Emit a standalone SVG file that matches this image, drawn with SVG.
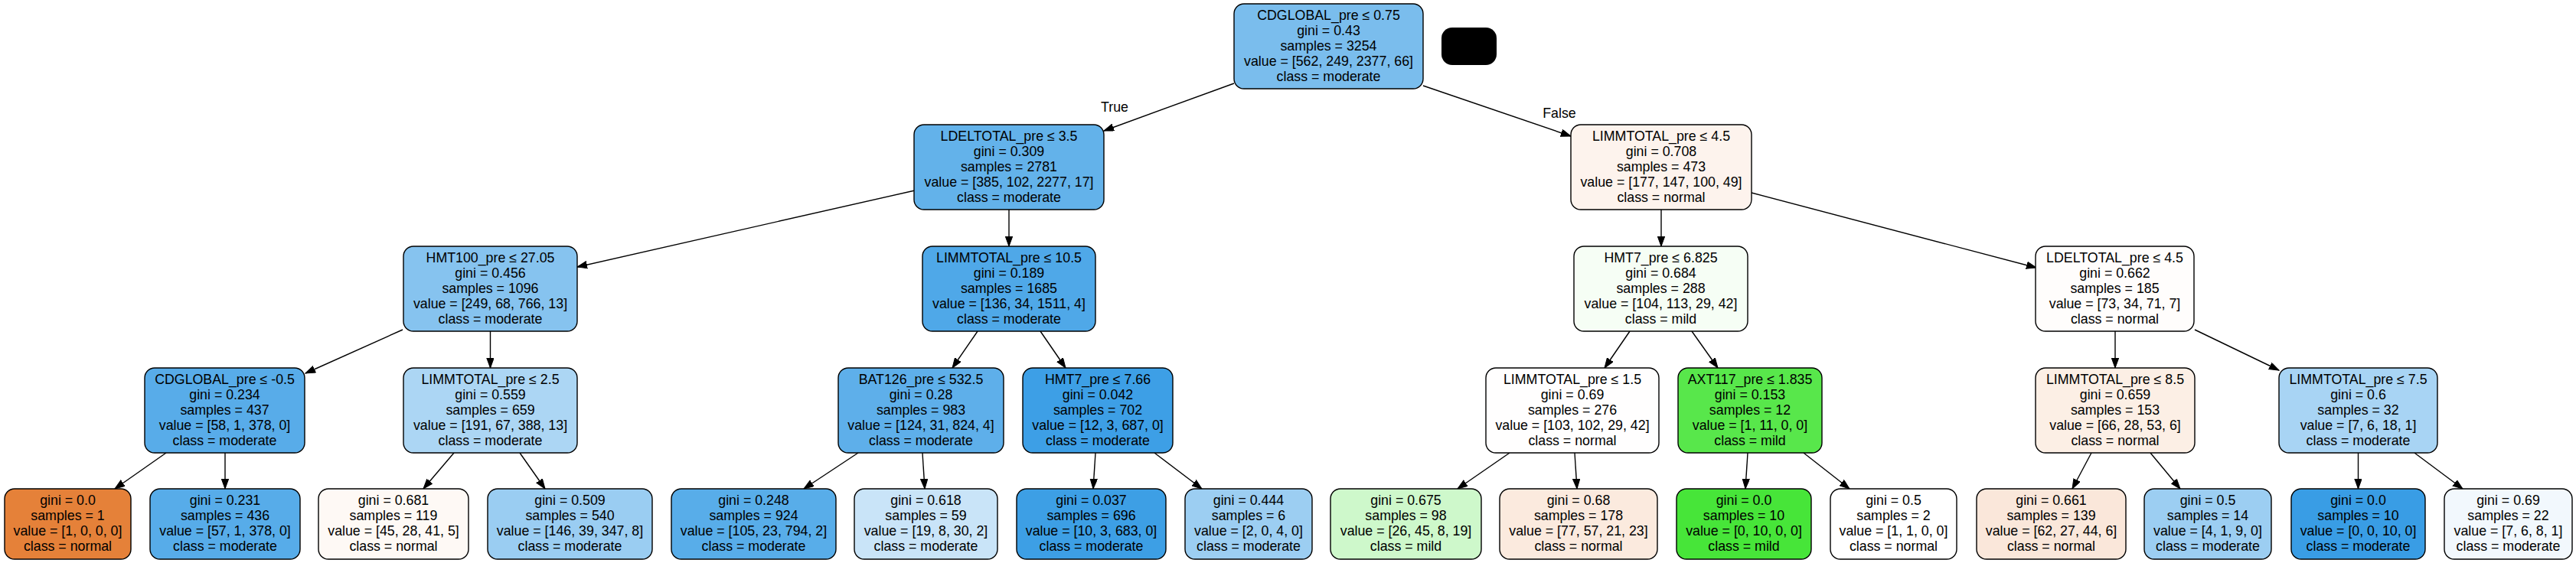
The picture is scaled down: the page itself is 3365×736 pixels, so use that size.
<svg xmlns="http://www.w3.org/2000/svg" width="3365" height="736" viewBox="0 0 3365 736">
<style>
.box{stroke:#000;stroke-width:1.4}
text{font-family:"Liberation Sans",Arial,Helvetica,sans-serif;font-size:17.8px;fill:#000;text-anchor:middle}
.e line{stroke:#000;stroke-width:1.4;fill:none;marker-end:url(#ah)}
</style>
<defs>
<marker id="ah" markerUnits="userSpaceOnUse" markerWidth="14" markerHeight="10" refX="13" refY="4.7" orient="auto">
<path d="M0,0 L13,4.7 L0,9.4 z" fill="#000" stroke="#000" stroke-width="1"/>
</marker>
</defs>
<rect x="0" y="0" width="3365" height="736" fill="#fff"/>
<g id="edges" class="e">
<line x1="1612" y1="109" x2="1442" y2="171"/>
<line x1="1859" y1="112" x2="2052" y2="178"/>
<line x1="1195" y1="249" x2="754" y2="349"/>
<line x1="1318" y1="274" x2="1318" y2="322"/>
<line x1="526" y1="431" x2="399" y2="488"/>
<line x1="640.5" y1="433" x2="640.5" y2="481"/>
<line x1="217" y1="592" x2="150" y2="639"/>
<line x1="294" y1="592" x2="294" y2="639"/>
<line x1="593" y1="592" x2="553" y2="639"/>
<line x1="679" y1="592" x2="712" y2="639"/>
<line x1="1277" y1="433" x2="1244" y2="481"/>
<line x1="1359" y1="433" x2="1392" y2="481"/>
<line x1="1121" y1="592" x2="1050" y2="639"/>
<line x1="1205" y1="592" x2="1208" y2="639"/>
<line x1="1431" y1="592" x2="1428" y2="639"/>
<line x1="1508" y1="592" x2="1570" y2="639"/>
<line x1="2170" y1="274" x2="2170" y2="322"/>
<line x1="2288" y1="252" x2="2660" y2="350"/>
<line x1="2129" y1="433" x2="2096" y2="481"/>
<line x1="2210" y1="433" x2="2244" y2="481"/>
<line x1="1972" y1="592" x2="1904" y2="639"/>
<line x1="2057" y1="592" x2="2060" y2="639"/>
<line x1="2283" y1="592" x2="2280" y2="639"/>
<line x1="2356" y1="592" x2="2416" y2="639"/>
<line x1="2763" y1="433" x2="2763" y2="481"/>
<line x1="2867" y1="431" x2="2977" y2="484"/>
<line x1="2732" y1="592" x2="2707" y2="639"/>
<line x1="2809" y1="592" x2="2848" y2="639"/>
<line x1="3080.5" y1="592" x2="3080.5" y2="639"/>
<line x1="3154" y1="592" x2="3217" y2="639"/>
<text x="1456" y="146">True</text>
<text x="2037" y="154">False</text>
</g>
<rect id="mask" x="1883" y="36" width="72" height="49" rx="14" fill="#000"/>
<g id="n0"><rect class="box" x="1612" y="5" width="247" height="111" rx="13" fill="#7abded"/><text y="26.3"><tspan x="1735.5">CDGLOBAL_pre ≤ 0.75</tspan><tspan x="1735.5" dy="19.8">gini = 0.43</tspan><tspan x="1735.5" dy="19.8">samples = 3254</tspan><tspan x="1735.5" dy="19.8">value = [562, 249, 2377, 66]</tspan><tspan x="1735.5" dy="19.8">class = moderate</tspan></text></g>
<g id="n1"><rect class="box" x="1194" y="163" width="248" height="111" rx="13" fill="#63b2ea"/><text y="184.3"><tspan x="1318">LDELTOTAL_pre ≤ 3.5</tspan><tspan x="1318" dy="19.8">gini = 0.309</tspan><tspan x="1318" dy="19.8">samples = 2781</tspan><tspan x="1318" dy="19.8">value = [385, 102, 2277, 17]</tspan><tspan x="1318" dy="19.8">class = moderate</tspan></text></g>
<g id="n2"><rect class="box" x="527" y="322" width="227" height="111" rx="13" fill="#86c3ef"/><text y="343.3"><tspan x="640.5">HMT100_pre ≤ 27.05</tspan><tspan x="640.5" dy="19.8">gini = 0.456</tspan><tspan x="640.5" dy="19.8">samples = 1096</tspan><tspan x="640.5" dy="19.8">value = [249, 68, 766, 13]</tspan><tspan x="640.5" dy="19.8">class = moderate</tspan></text></g>
<g id="n3"><rect class="box" x="189" y="481" width="209" height="111" rx="13" fill="#58ace9"/><text y="502.3"><tspan x="293.5">CDGLOBAL_pre ≤ -0.5</tspan><tspan x="293.5" dy="19.8">gini = 0.234</tspan><tspan x="293.5" dy="19.8">samples = 437</tspan><tspan x="293.5" dy="19.8">value = [58, 1, 378, 0]</tspan><tspan x="293.5" dy="19.8">class = moderate</tspan></text></g>
<g id="n4"><rect class="box" x="6" y="639" width="165" height="92" rx="13" fill="#e58139"/><text y="660.3"><tspan x="88.5">gini = 0.0</tspan><tspan x="88.5" dy="19.8">samples = 1</tspan><tspan x="88.5" dy="19.8">value = [1, 0, 0, 0]</tspan><tspan x="88.5" dy="19.8">class = normal</tspan></text></g>
<g id="n5"><rect class="box" x="196" y="639" width="196" height="92" rx="13" fill="#57ace9"/><text y="660.3"><tspan x="294">gini = 0.231</tspan><tspan x="294" dy="19.8">samples = 436</tspan><tspan x="294" dy="19.8">value = [57, 1, 378, 0]</tspan><tspan x="294" dy="19.8">class = moderate</tspan></text></g>
<g id="n6"><rect class="box" x="527" y="481" width="227" height="111" rx="13" fill="#acd6f4"/><text y="502.3"><tspan x="640.5">LIMMTOTAL_pre ≤ 2.5</tspan><tspan x="640.5" dy="19.8">gini = 0.559</tspan><tspan x="640.5" dy="19.8">samples = 659</tspan><tspan x="640.5" dy="19.8">value = [191, 67, 388, 13]</tspan><tspan x="640.5" dy="19.8">class = moderate</tspan></text></g>
<g id="n7"><rect class="box" x="416" y="639" width="196" height="92" rx="13" fill="#fef9f5"/><text y="660.3"><tspan x="514">gini = 0.681</tspan><tspan x="514" dy="19.8">samples = 119</tspan><tspan x="514" dy="19.8">value = [45, 28, 41, 5]</tspan><tspan x="514" dy="19.8">class = normal</tspan></text></g>
<g id="n8"><rect class="box" x="637" y="639" width="215" height="92" rx="13" fill="#9acdf2"/><text y="660.3"><tspan x="744.5">gini = 0.509</tspan><tspan x="744.5" dy="19.8">samples = 540</tspan><tspan x="744.5" dy="19.8">value = [146, 39, 347, 8]</tspan><tspan x="744.5" dy="19.8">class = moderate</tspan></text></g>
<g id="n9"><rect class="box" x="1205" y="322" width="226" height="111" rx="13" fill="#4fa8e8"/><text y="343.3"><tspan x="1318">LIMMTOTAL_pre ≤ 10.5</tspan><tspan x="1318" dy="19.8">gini = 0.189</tspan><tspan x="1318" dy="19.8">samples = 1685</tspan><tspan x="1318" dy="19.8">value = [136, 34, 1511, 4]</tspan><tspan x="1318" dy="19.8">class = moderate</tspan></text></g>
<g id="n10"><rect class="box" x="1095" y="481" width="216" height="111" rx="13" fill="#5eafea"/><text y="502.3"><tspan x="1203">BAT126_pre ≤ 532.5</tspan><tspan x="1203" dy="19.8">gini = 0.28</tspan><tspan x="1203" dy="19.8">samples = 983</tspan><tspan x="1203" dy="19.8">value = [124, 31, 824, 4]</tspan><tspan x="1203" dy="19.8">class = moderate</tspan></text></g>
<g id="n11"><rect class="box" x="877" y="639" width="215" height="92" rx="13" fill="#58ade9"/><text y="660.3"><tspan x="984.5">gini = 0.248</tspan><tspan x="984.5" dy="19.8">samples = 924</tspan><tspan x="984.5" dy="19.8">value = [105, 23, 794, 2]</tspan><tspan x="984.5" dy="19.8">class = moderate</tspan></text></g>
<g id="n12"><rect class="box" x="1116" y="639" width="187" height="92" rx="13" fill="#c9e4f8"/><text y="660.3"><tspan x="1209.5">gini = 0.618</tspan><tspan x="1209.5" dy="19.8">samples = 59</tspan><tspan x="1209.5" dy="19.8">value = [19, 8, 30, 2]</tspan><tspan x="1209.5" dy="19.8">class = moderate</tspan></text></g>
<g id="n13"><rect class="box" x="1336" y="481" width="196" height="111" rx="13" fill="#3d9fe6"/><text y="502.3"><tspan x="1434">HMT7_pre ≤ 7.66</tspan><tspan x="1434" dy="19.8">gini = 0.042</tspan><tspan x="1434" dy="19.8">samples = 702</tspan><tspan x="1434" dy="19.8">value = [12, 3, 687, 0]</tspan><tspan x="1434" dy="19.8">class = moderate</tspan></text></g>
<g id="n14"><rect class="box" x="1328" y="639" width="195" height="92" rx="13" fill="#3d9fe5"/><text y="660.3"><tspan x="1425.5">gini = 0.037</tspan><tspan x="1425.5" dy="19.8">samples = 696</tspan><tspan x="1425.5" dy="19.8">value = [10, 3, 683, 0]</tspan><tspan x="1425.5" dy="19.8">class = moderate</tspan></text></g>
<g id="n15"><rect class="box" x="1548" y="639" width="166" height="92" rx="13" fill="#9ccef2"/><text y="660.3"><tspan x="1631">gini = 0.444</tspan><tspan x="1631" dy="19.8">samples = 6</tspan><tspan x="1631" dy="19.8">value = [2, 0, 4, 0]</tspan><tspan x="1631" dy="19.8">class = moderate</tspan></text></g>
<g id="n16"><rect class="box" x="2052" y="163" width="236" height="111" rx="13" fill="#fdf3ed"/><text y="184.3"><tspan x="2170">LIMMTOTAL_pre ≤ 4.5</tspan><tspan x="2170" dy="19.8">gini = 0.708</tspan><tspan x="2170" dy="19.8">samples = 473</tspan><tspan x="2170" dy="19.8">value = [177, 147, 100, 49]</tspan><tspan x="2170" dy="19.8">class = normal</tspan></text></g>
<g id="n17"><rect class="box" x="2056" y="322" width="227" height="111" rx="13" fill="#f6fef5"/><text y="343.3"><tspan x="2169.5">HMT7_pre ≤ 6.825</tspan><tspan x="2169.5" dy="19.8">gini = 0.684</tspan><tspan x="2169.5" dy="19.8">samples = 288</tspan><tspan x="2169.5" dy="19.8">value = [104, 113, 29, 42]</tspan><tspan x="2169.5" dy="19.8">class = mild</tspan></text></g>
<g id="n18"><rect class="box" x="1941" y="481" width="226" height="111" rx="13" fill="#fffefe"/><text y="502.3"><tspan x="2054">LIMMTOTAL_pre ≤ 1.5</tspan><tspan x="2054" dy="19.8">gini = 0.69</tspan><tspan x="2054" dy="19.8">samples = 276</tspan><tspan x="2054" dy="19.8">value = [103, 102, 29, 42]</tspan><tspan x="2054" dy="19.8">class = normal</tspan></text></g>
<g id="n19"><rect class="box" x="1738" y="639" width="197" height="92" rx="13" fill="#cef8cb"/><text y="660.3"><tspan x="1836.5">gini = 0.675</tspan><tspan x="1836.5" dy="19.8">samples = 98</tspan><tspan x="1836.5" dy="19.8">value = [26, 45, 8, 19]</tspan><tspan x="1836.5" dy="19.8">class = mild</tspan></text></g>
<g id="n20"><rect class="box" x="1959" y="639" width="206" height="92" rx="13" fill="#fbeade"/><text y="660.3"><tspan x="2062">gini = 0.68</tspan><tspan x="2062" dy="19.8">samples = 178</tspan><tspan x="2062" dy="19.8">value = [77, 57, 21, 23]</tspan><tspan x="2062" dy="19.8">class = normal</tspan></text></g>
<g id="n21"><rect class="box" x="2192" y="481" width="188" height="111" rx="13" fill="#58e74b"/><text y="502.3"><tspan x="2286">AXT117_pre ≤ 1.835</tspan><tspan x="2286" dy="19.8">gini = 0.153</tspan><tspan x="2286" dy="19.8">samples = 12</tspan><tspan x="2286" dy="19.8">value = [1, 11, 0, 0]</tspan><tspan x="2286" dy="19.8">class = mild</tspan></text></g>
<g id="n22"><rect class="box" x="2190" y="639" width="176" height="92" rx="13" fill="#47e539"/><text y="660.3"><tspan x="2278">gini = 0.0</tspan><tspan x="2278" dy="19.8">samples = 10</tspan><tspan x="2278" dy="19.8">value = [0, 10, 0, 0]</tspan><tspan x="2278" dy="19.8">class = mild</tspan></text></g>
<g id="n23"><rect class="box" x="2391" y="639" width="165" height="92" rx="13" fill="#ffffff"/><text y="660.3"><tspan x="2473.5">gini = 0.5</tspan><tspan x="2473.5" dy="19.8">samples = 2</tspan><tspan x="2473.5" dy="19.8">value = [1, 1, 0, 0]</tspan><tspan x="2473.5" dy="19.8">class = normal</tspan></text></g>
<g id="n24"><rect class="box" x="2659" y="322" width="207" height="111" rx="13" fill="#fffdfc"/><text y="343.3"><tspan x="2762.5">LDELTOTAL_pre ≤ 4.5</tspan><tspan x="2762.5" dy="19.8">gini = 0.662</tspan><tspan x="2762.5" dy="19.8">samples = 185</tspan><tspan x="2762.5" dy="19.8">value = [73, 34, 71, 7]</tspan><tspan x="2762.5" dy="19.8">class = normal</tspan></text></g>
<g id="n25"><rect class="box" x="2659" y="481" width="208" height="111" rx="13" fill="#fcefe5"/><text y="502.3"><tspan x="2763">LIMMTOTAL_pre ≤ 8.5</tspan><tspan x="2763" dy="19.8">gini = 0.659</tspan><tspan x="2763" dy="19.8">samples = 153</tspan><tspan x="2763" dy="19.8">value = [66, 28, 53, 6]</tspan><tspan x="2763" dy="19.8">class = normal</tspan></text></g>
<g id="n26"><rect class="box" x="2582" y="639" width="195" height="92" rx="13" fill="#fae7da"/><text y="660.3"><tspan x="2679.5">gini = 0.661</tspan><tspan x="2679.5" dy="19.8">samples = 139</tspan><tspan x="2679.5" dy="19.8">value = [62, 27, 44, 6]</tspan><tspan x="2679.5" dy="19.8">class = normal</tspan></text></g>
<g id="n27"><rect class="box" x="2801" y="639" width="166" height="92" rx="13" fill="#9ccef2"/><text y="660.3"><tspan x="2884">gini = 0.5</tspan><tspan x="2884" dy="19.8">samples = 14</tspan><tspan x="2884" dy="19.8">value = [4, 1, 9, 0]</tspan><tspan x="2884" dy="19.8">class = moderate</tspan></text></g>
<g id="n28"><rect class="box" x="2977" y="481" width="207" height="111" rx="13" fill="#a8d4f4"/><text y="502.3"><tspan x="3080.5">LIMMTOTAL_pre ≤ 7.5</tspan><tspan x="3080.5" dy="19.8">gini = 0.6</tspan><tspan x="3080.5" dy="19.8">samples = 32</tspan><tspan x="3080.5" dy="19.8">value = [7, 6, 18, 1]</tspan><tspan x="3080.5" dy="19.8">class = moderate</tspan></text></g>
<g id="n29"><rect class="box" x="2993" y="639" width="175" height="92" rx="13" fill="#399de5"/><text y="660.3"><tspan x="3080.5">gini = 0.0</tspan><tspan x="3080.5" dy="19.8">samples = 10</tspan><tspan x="3080.5" dy="19.8">value = [0, 0, 10, 0]</tspan><tspan x="3080.5" dy="19.8">class = moderate</tspan></text></g>
<g id="n30"><rect class="box" x="3193" y="639" width="167" height="92" rx="13" fill="#f2f8fd"/><text y="660.3"><tspan x="3276.5">gini = 0.69</tspan><tspan x="3276.5" dy="19.8">samples = 22</tspan><tspan x="3276.5" dy="19.8">value = [7, 6, 8, 1]</tspan><tspan x="3276.5" dy="19.8">class = moderate</tspan></text></g>
</svg>
